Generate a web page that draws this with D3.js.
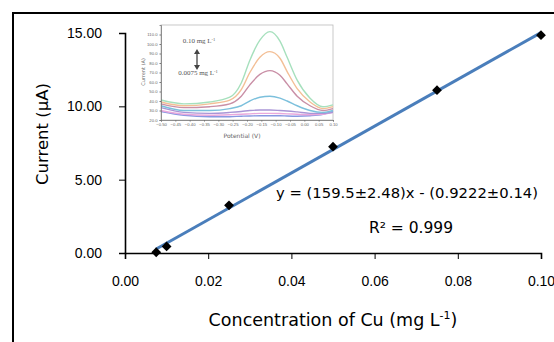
<!DOCTYPE html>
<html>
<head>
<meta charset="utf-8">
<script src="https://cdn.jsdelivr.net/npm/d3@7"></script>
<style>
  body { margin: 0; background: #fff; }
  svg { display: block; font-family: "DejaVu Sans", Verdana, sans-serif; }
</style>
</head>
<body>
<div id="chart"></div>
<script>
// calibration points
const conc = [0.0075, 0.01, 0.025, 0.05, 0.075, 0.1];
const current = [0.05, 0.45, 3.25, 7.25, 11.1, 14.85];
const slope = 159.5, intercept = -0.9222;
const xTicks = [0, 0.02, 0.04, 0.06, 0.08, 0.1];
const yTicks = [0, 5, 10, 15];

// inset voltammograms
const potential = [-0.50, -0.42, -0.33, -0.26, -0.22, -0.19, -0.155, -0.12, -0.085, -0.06, -0.025, 0.02, 0.065, 0.10];
const insetSeries = [
  { name: 'green',  color: '#a6e0bd', v: [2.1, 1.7, 1.9, 2.4, 3.9, 6.3, 8.4, 9.3, 8.3, 6.6, 4.2, 2.3, 1.4, 1.6] },
  { name: 'orange', color: '#f3bf96', v: [1.9, 1.5, 1.7, 2.1, 3.2, 5.0, 6.6, 7.2, 6.5, 5.1, 3.3, 1.9, 1.2, 1.4] },
  { name: 'mauve',  color: '#c98fa6', v: [1.7, 1.3, 1.4, 1.7, 2.5, 3.7, 4.8, 5.2, 4.7, 3.8, 2.5, 1.5, 1.0, 1.2] },
  { name: 'cyan',   color: '#7cc0dc', v: [1.5, 1.0, 1.0, 1.2, 1.5, 2.0, 2.4, 2.5, 2.3, 2.0, 1.5, 1.0, 0.8, 1.0] },
  { name: 'purple', color: '#a995d6', v: [1.3, 0.8, 0.7, 0.8, 0.9, 1.0, 1.05, 1.05, 1.0, 0.95, 0.85, 0.7, 0.7, 0.8] },
  { name: 'pink',   color: '#e9a8dc', v: [1.0, 0.6, 0.5, 0.55, 0.6, 0.65, 0.7, 0.7, 0.68, 0.65, 0.6, 0.55, 0.6, 0.8] },
  { name: 'blue',   color: '#8898e2', v: [0.9, 0.5, 0.35, 0.35, 0.4, 0.42, 0.45, 0.45, 0.45, 0.42, 0.4, 0.45, 0.6, 0.9] }
];
const insetXTicks = [-0.50, -0.45, -0.40, -0.35, -0.30, -0.25, -0.20, -0.15, -0.10, -0.05, 0.00, 0.05, 0.10];
const insetYTicks = [0, 1, 2, 3, 4, 5, 6, 7, 8, 9];
const insetYLabels = ['20.0', '30.0', '40.0', '50.0', '60.0', '70.0', '80.0', '90.0', '100.0', '110.0'];

const W = 554, H = 342;
const svg = d3.select('#chart').append('svg').attr('width', W).attr('height', H);

// outer frame
svg.append('rect')
  .attr('x', 13).attr('y', 13).attr('width', 600).attr('height', 400)
  .attr('fill', 'none').attr('stroke', '#000').attr('stroke-width', 2);

const x = d3.scaleLinear().domain([0, 0.1]).range([125, 541]);
const y = d3.scaleLinear().domain([0, 15]).range([253, 33]);

// axes
svg.append('g')
  .attr('transform', 'translate(0,' + y(0) + ')')
  .call(d3.axisBottom(x).tickValues(xTicks).tickFormat(d3.format('.2f')).tickSizeOuter(0).tickSize(6).tickPadding(17))
  .call(g => g.select('.domain').attr('stroke-width', 1.6))
  .call(g => g.selectAll('text').attr('font-size', 14).attr('fill', '#000'));

svg.append('g')
  .attr('transform', 'translate(' + x(0) + ',0)')
  .call(d3.axisLeft(y).tickValues(yTicks).tickFormat(d3.format('.2f')).tickSizeOuter(0).tickSize(6).tickPadding(17))
  .call(g => g.select('.domain').attr('stroke-width', 1.6))
  .call(g => g.selectAll('text').attr('font-size', 14).attr('fill', '#000'));

svg.append('text')
  .attr('x', 333).attr('y', 326)
  .attr('text-anchor', 'middle').attr('font-size', 17.5)
  .html('Concentration of Cu (mg L<tspan dy="-7" font-size="11">-1</tspan><tspan dy="7">)</tspan>');

svg.append('text')
  .attr('transform', 'translate(48,134) rotate(-90)')
  .attr('text-anchor', 'middle').attr('font-size', 16.5)
  .text('Current (μA)');

// trend line
const lx = [0.0075, 0.1];
svg.append('line')
  .attr('x1', x(lx[0])).attr('y1', y(slope * lx[0] + intercept))
  .attr('x2', x(lx[1])).attr('y2', y(slope * lx[1] + intercept))
  .attr('stroke', '#4a7ebb').attr('stroke-width', 3);

// markers
svg.append('g')
  .selectAll('path')
  .data(conc.map((c, i) => [c, current[i]]))
  .join('path')
  .attr('d', d3.symbol(d3.symbolSquare, 48)())
  .attr('transform', d => 'translate(' + x(d[0]) + ',' + y(d[1]) + ') rotate(45)')
  .attr('fill', '#000');

// equation
svg.append('text')
  .attr('x', 407).attr('y', 198).attr('text-anchor', 'middle').attr('font-size', 14.8)
  .text('y = (159.5±2.48)x - (0.9222±0.14)');
svg.append('text')
  .attr('x', 411).attr('y', 233).attr('text-anchor', 'middle').attr('font-size', 15.5)
  .text('R² = 0.999');

// ---- inset ----
const ix = d3.scaleLinear().domain([-0.5, 0.1]).range([161, 333]);
const iy = d3.scaleLinear().domain([0, 10]).range([120, 25]);
const inset = svg.append('g');

inset.append('rect')
  .attr('x', 161).attr('y', 25).attr('width', 172).attr('height', 95)
  .attr('fill', '#fff').attr('stroke', '#bbb').attr('stroke-width', 0.8);

const line = d3.line().curve(d3.curveMonotoneX).x((d, i) => ix(potential[i])).y(d => iy(d));
inset.selectAll('path.sp')
  .data(insetSeries.slice().reverse())
  .join('path')
  .attr('class', 'sp')
  .attr('d', d => line(d.v))
  .attr('fill', 'none').attr('stroke', d => d.color).attr('stroke-width', 1.4);

inset.append('g')
  .attr('transform', 'translate(0,120)')
  .call(d3.axisBottom(ix).tickValues(insetXTicks).tickFormat(d3.format('.2f')).tickSize(1.5).tickPadding(2))
  .call(g => g.select('.domain').attr('stroke', '#777').attr('stroke-width', 0.8))
  .call(g => g.selectAll('.tick line').attr('stroke', '#777'))
  .call(g => g.selectAll('text').attr('font-size', 4.2).attr('fill', '#666'));

inset.append('g')
  .attr('transform', 'translate(161,0)')
  .call(d3.axisLeft(iy).tickValues(insetYTicks).tickFormat((d, i) => insetYLabels[i]).tickSize(1.5).tickPadding(2))
  .call(g => g.select('.domain').attr('stroke', '#777').attr('stroke-width', 0.8))
  .call(g => g.selectAll('.tick line').attr('stroke', '#777'))
  .call(g => g.selectAll('text').attr('font-size', 4.2).attr('fill', '#666'));

inset.append('text')
  .attr('x', 242).attr('y', 138).attr('text-anchor', 'middle')
  .attr('font-size', 6).attr('fill', '#666')
  .text('Potential (V)');
inset.append('text')
  .attr('transform', 'translate(145,72) rotate(-90)').attr('text-anchor', 'middle')
  .attr('font-size', 5).attr('fill', '#666')
  .text('Current (A)');

inset.append('text')
  .attr('x', 199).attr('y', 43).attr('text-anchor', 'middle')
  .attr('font-family', '"Liberation Serif", serif').attr('font-size', 7).attr('fill', '#555')
  .html('0.10 mg L<tspan dy="-2.5" font-size="4.5">-1</tspan>');
inset.append('text')
  .attr('x', 198).attr('y', 75).attr('text-anchor', 'middle')
  .attr('font-family', '"Liberation Serif", serif').attr('font-size', 7).attr('fill', '#555')
  .html('0.0075 mg L<tspan dy="-2.5" font-size="4.5">-1</tspan>');

// double-headed arrow
inset.append('line')
  .attr('x1', 197).attr('y1', 52).attr('x2', 197).attr('y2', 67)
  .attr('stroke', '#444').attr('stroke-width', 1.3);
inset.append('path')
  .attr('d', 'M194,54 L197,49 L200,54 Z M194,65 L197,70 L200,65 Z')
  .attr('fill', '#444');
</script>
</body>
</html>
